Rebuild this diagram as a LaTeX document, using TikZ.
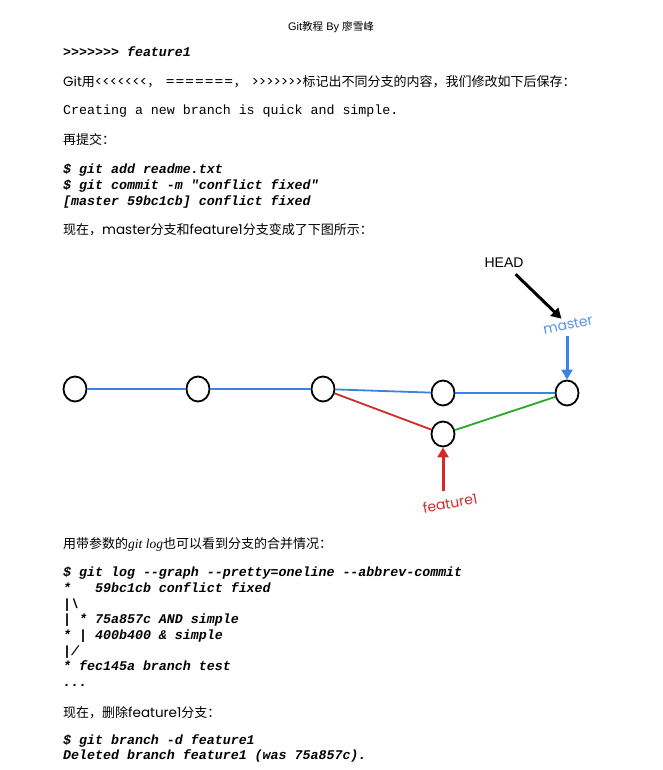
\documentclass[tikz,border=0pt]{standalone}
\usepackage{fontspec}
\usepackage{tikz}
\usetikzlibrary{shapes.geometric,arrows.meta}
\setmainfont{Poppins}[Ligatures=TeXOff]
\newfontfamily\zh{Noto Sans CJK SC}[Ligatures=TeXOff,Scale=0.963]
\newfontfamily\mono{Liberation Mono}[Ligatures=TeXOff]
\newfontfamily\tm{Liberation Serif}[Ligatures=TeXOff]
\newfontfamily\helv{Liberation Sans}[Ligatures=TeXOff]
\definecolor{gitblue}{HTML}{3A82E6}
\definecolor{gitred}{HTML}{D22A2A}
\definecolor{gitgreen}{HTML}{2AA82A}

\begin{document}
\begin{tikzpicture}[x=1pt,y=-1pt]
\tikzstyle{every node}=[inner sep=0pt]
\tikzstyle{txt}=[anchor=base west,font=\fontsize{13.5}{16}\selectfont]
\tikzstyle{cmd}=[anchor=base west,font=\mono\bfseries\itshape\fontsize{13.3}{15}\selectfont]
\tikzstyle{plain}=[anchor=base west,font=\mono\fontsize{13.3}{15}\selectfont]
\tikzstyle{commit}=[draw,ellipse,line width=1.8pt,minimum width=23pt,minimum height=25pt,fill=white]
\tikzstyle{branch}=[font=\fontsize{14}{16}\selectfont]
\tikzstyle{edge}=[line width=1.8pt]
\tikzstyle{pointer}=[line width=3pt,-{Triangle[length=10pt,width=11pt]}]

\path[use as bounding box,fill=white] (0,0) rectangle (662,770);

% page header
\node[anchor=base,font=\helv\fontsize{11}{13}\selectfont] (title) at (331,31) {Git{\zh 教程} By {\zh 廖雪峰}};

% text before the picture
\node[cmd] (l1) at (63,57) {>>>>>>> feature1};
\node[txt] (l2) at (63,87) {Git{\zh 用}<<<<<<<{\zh ，}\hspace{5pt}======={\zh ，}\hspace{5pt}>>>>>>>{\zh 标记出不同分支的内容，我们修改如下后保存：}};
\node[plain] (l3) at (63,115) {Creating a new branch is quick and simple.};
\node[txt] (l4) at (63,145) {\zh 再提交：};
\node[cmd] (l5) at (63,173.5) {\$ git add readme.txt};
\node[cmd] (l6) at (63,189.5) {\$ git commit -m "conflict fixed"};
\node[cmd] (l7) at (63,205.5) {[master 59bc1cb] conflict fixed};
\node[txt] (l8) at (63,234) {{\zh 现在，}master{\zh 分支和}feature1{\zh 分支变成了下图所示：}};

% commits
\node[commit] (c1) at (75,389) {};
\node[commit] (c2) at (198,389) {};
\node[commit] (c3) at (323,389) {};
\node[commit] (c4) at (443,393) {};
\node[commit] (c5) at (567,393) {};
\node[commit] (f1) at (443,434) {};

\draw[edge,gitblue] (c1) -- (c2);
\draw[edge,gitblue] (c2) -- (c3);
\draw[edge,gitblue] (c3) -- (c4);
\draw[edge,gitblue] (c4) -- (c5);
\draw[edge,gitred] (c3) -- (f1);
\draw[edge,gitgreen] (f1) -- (c5);

% branch labels
\node[branch,font=\helv\fontsize{14}{16}\selectfont] (head) at (504,263) {HEAD};
\node[branch,text=gitblue!85,rotate=12] (master) at (568,325) {master};
\node[branch,text=gitred,rotate=10] (feat) at (450,503) {feature1};

\draw[pointer,black,shorten <=9pt,shorten >=3pt] (head) -- (master);
\draw[pointer,gitblue] (master.south -| c5) ++(0,6) -- (c5.north);
\draw[pointer,gitred] (feat.north -| f1) ++(0,-6) -- (f1.south);

% text after the picture
\node[txt] (l9) at (63,548) {{\zh 用带参数的}{\tm\itshape git log}{\zh 也可以看到分支的合并情况：}};
\node[cmd] (g1) at (63,576.5) {\$ git log -{}-graph -{}-pretty=oneline -{}-abbrev-commit};
\node[cmd] (g2) at (63,592.5) {*\ \ \ 59bc1cb conflict fixed};
\node[cmd] (g3) at (63,608) {|\textbackslash};
\node[cmd] (g4) at (63,623.5) {| * 75a857c AND simple};
\node[cmd] (g5) at (63,639.5) {* | 400b400 \& simple};
\node[cmd] (g6) at (63,655) {|/};
\node[cmd] (g7) at (63,670.5) {* fec145a branch test};
\node[cmd] (g8) at (63,686) {...};
\node[txt] (l10) at (63,717) {{\zh 现在，删除}feature1{\zh 分支：}};
\node[cmd] (d1) at (63,744.5) {\$ git branch -d feature1};
\node[cmd] (d2) at (63,759.5) {Deleted branch feature1 (was 75a857c).};
\end{tikzpicture}
\end{document}
